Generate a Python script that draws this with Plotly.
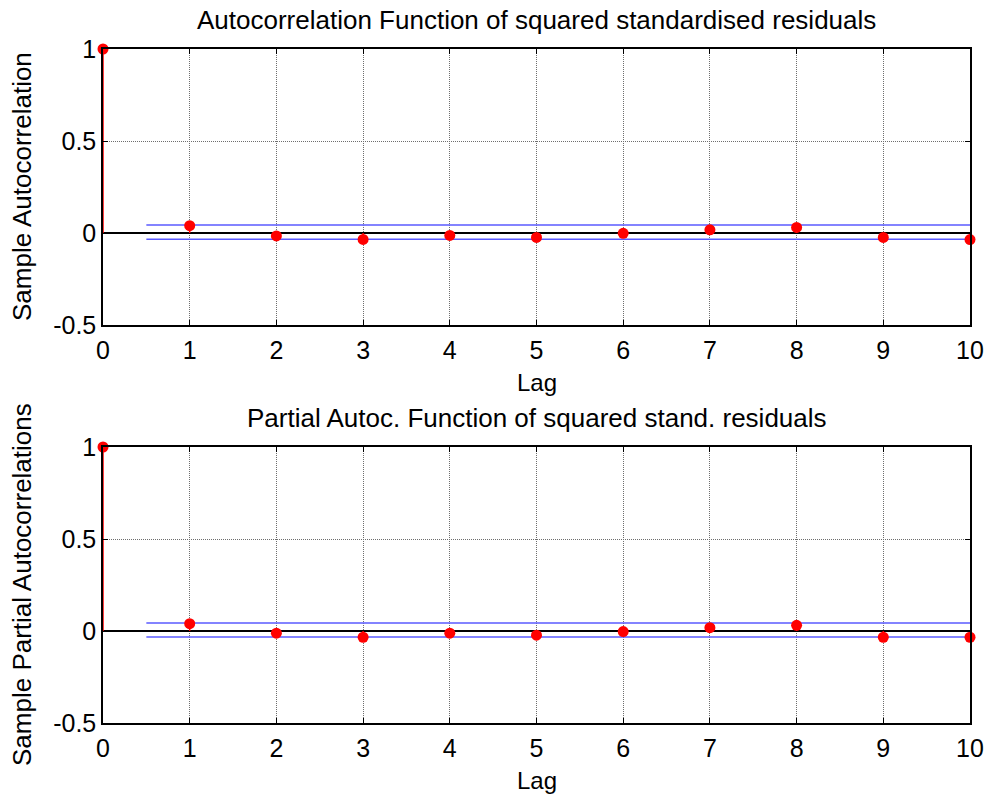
import plotly.graph_objects as go

# values
lags = [0, 1, 2, 3, 4, 5, 6, 7, 8, 9, 10]
acf = [1.0, 0.040, -0.016, -0.035, -0.013, -0.024, -0.002, 0.017, 0.030, -0.024, -0.036]
pacf = [1.0, 0.040, -0.012, -0.034, -0.012, -0.023, -0.003, 0.018, 0.031, -0.034, -0.034]
bound_x = [0.5, 10]
acf_bounds = [0.043, -0.034]
pacf_bounds = [0.043, -0.033]

titles = [
    "Autocorrelation Function of squared standardised residuals",
    "Partial Autoc. Function of squared stand. residuals",
]
ylabels = ["Sample Autocorrelation", "Sample Partial Autocorrelations"]
ytickvals = [-0.5, 0, 0.5, 1]
yticktext = ["-0.5", "0", "0.5", "1"]

FONT = "Arial, Liberation Sans, sans-serif"
W, H = 987, 796
# plot areas in pixels: (left, right) and (top, bottom) per panel
x_px = (103, 970)
y_px = [(49, 325), (447, 723)]


def stem_xy(x, y):
    sx, sy = [], []
    for xi, yi in zip(x, y):
        sx += [xi, xi, None]
        sy += [0, yi, None]
    return sx, sy


fig = go.Figure()
panels = [(acf, acf_bounds), (pacf, pacf_bounds)]
for i, (vals, bounds) in enumerate(panels):
    xa = "x" if i == 0 else "x2"
    ya = "y" if i == 0 else "y2"
    sx, sy = stem_xy(lags, vals)
    fig.add_trace(go.Scatter(
        x=sx, y=sy, mode="lines", xaxis=xa, yaxis=ya,
        line=dict(color="red", width=1.5), hoverinfo="skip", showlegend=False,
    ))
    for b in bounds:
        fig.add_trace(go.Scatter(
            x=bound_x, y=[b, b], mode="lines", xaxis=xa, yaxis=ya,
            line=dict(color="rgb(90,90,255)", width=1.5), showlegend=False,
        ))
    fig.add_trace(go.Scatter(
        x=lags, y=vals, mode="markers", xaxis=xa, yaxis=ya,
        marker=dict(color="red", size=11), cliponaxis=False, showlegend=False,
    ))

axis_common = dict(
    showline=True, linecolor="black", linewidth=1.5, mirror="ticks",
    ticks="inside", ticklen=5, tickcolor="black", tickwidth=1,
    showgrid=True, gridcolor="rgb(110,110,110)", griddash="1px,1px", gridwidth=1,
    tickfont=dict(family=FONT, size=25, color="black"),
    automargin=False,
)

layout = dict(
    width=W, height=H,
    margin=dict(l=0, r=0, t=0, b=0),
    paper_bgcolor="white", plot_bgcolor="white",
    showlegend=False,
    font=dict(family=FONT, color="black"),
)
for i in range(2):
    sfx = "" if i == 0 else "2"
    top, bot = y_px[i]
    layout["xaxis" + sfx] = dict(
        axis_common,
        domain=[x_px[0] / W, x_px[1] / W],
        range=[0, 10], dtick=1, zeroline=False,
        anchor="y" + sfx, ticklabelstandoff=2,
    )
    layout["yaxis" + sfx] = dict(
        axis_common,
        domain=[1 - bot / H, 1 - top / H],
        range=[-0.5, 1],
        tickvals=ytickvals, ticktext=yticktext,
        zeroline=True, zerolinecolor="black", zerolinewidth=1.5,
        anchor="x" + sfx,
    )

fig.update_layout(**layout)

for i in range(2):
    top, bot = y_px[i]
    # panel title
    fig.add_annotation(
        text=titles[i], xref="paper", yref="paper",
        x=(x_px[0] + x_px[1]) / 2 / W, y=1 - (top - 29) / H,
        xanchor="center", yanchor="middle", showarrow=False,
        font=dict(family=FONT, size=26, color="black"),
    )
    # x label
    fig.add_annotation(
        text="Lag", xref="paper", yref="paper",
        x=(x_px[0] + x_px[1]) / 2 / W, y=1 - (bot + 57) / H,
        xanchor="center", yanchor="middle", showarrow=False,
        font=dict(family=FONT, size=24, color="black"),
    )
    # y label
    fig.add_annotation(
        text=ylabels[i], xref="paper", yref="paper", textangle=-90,
        x=22 / W, y=1 - (top + bot) / 2 / H,
        xanchor="center", yanchor="middle", showarrow=False,
        font=dict(family=FONT, size=26, color="black"),
    )

fig.write_html(
    "out.html",
    config={"displayModeBar": False},
    post_script="document.body.style.margin='0px';",
)
